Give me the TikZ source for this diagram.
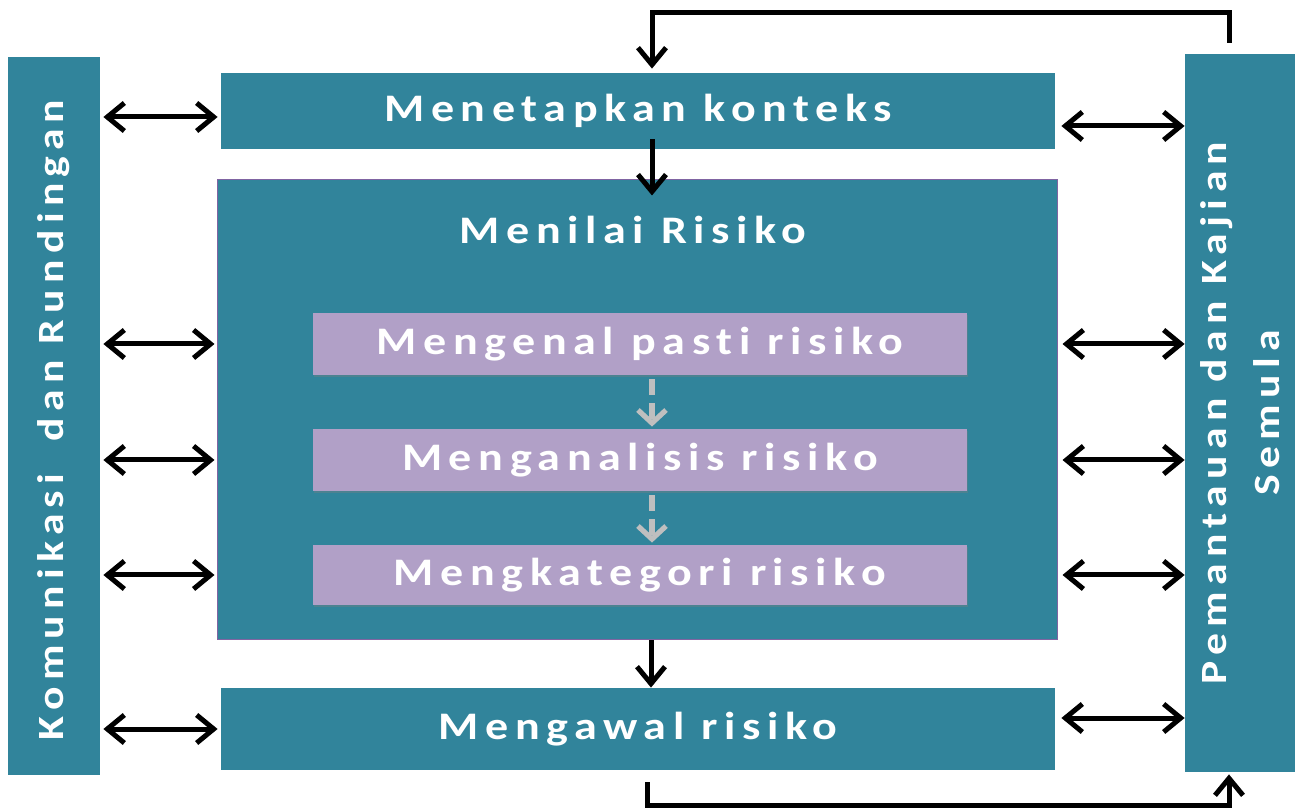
\documentclass[tikz,border=0pt]{standalone}
\usepackage{fontspec}
\setmainfont{Carlito}
\newfontfamily\spacedfont[LetterSpace=17, FakeStretch=1.18, Ligatures=NoCommon]{Carlito}
\usepackage{tikz}
\usetikzlibrary{arrows.meta,positioning,shadows}
\definecolor{cteal}{HTML}{31849B}
\definecolor{cpurp}{HTML}{B1A0C7}
\definecolor{cedge}{HTML}{8064A2}
\definecolor{cgrey}{HTML}{BFBFBF}
\tikzset{
  box/.style={fill=cteal, inner sep=0pt, text=white, align=center, font=\spacedfont\bfseries\fontsize{19.5}{27}\selectfont},
  tealn/.style={box},
  purpn/.style={box, fill=cpurp, minimum width=327pt, drop shadow={opacity=0.35, shadow xshift=0.6pt, shadow yshift=-0.9pt}},
  txt/.style={inner sep=0pt, text=white, align=center, font=\spacedfont\bfseries\fontsize{19.5}{27}\selectfont},
  vtxt/.style={txt, rotate=90, font=\spacedfont\bfseries\fontsize{18.5}{26.5}\selectfont},
  tip/.style={-{Straight Barb[length=8.5pt, width=14pt]}, line width=2.5pt},
  dbl/.style={{Straight Barb[length=8.5pt, width=14pt]}-{Straight Barb[length=8.5pt, width=14pt]}, line width=2.5pt},
  dashtip/.style={-{Straight Barb[length=6.5pt, width=14pt]}, draw=cgrey, line width=2.6pt, dash pattern=on 8pt off 4pt},
}
\begin{document}
\begin{tikzpicture}[x=0.5pt,y=-0.5pt]
\useasboundingbox (0,0) rectangle (1297,812);
% side bars
\node[tealn, minimum width=46pt, minimum height=358.5pt] (kom) at (54,416) {};
\node[vtxt] (komT) at ([yshift=-2pt]kom.center) {Komunikasi\ \ dan Rundingan};
\node[tealn, minimum width=55pt, minimum height=359pt] (pem) at (1240,413) {};
\node[vtxt] (pemT) at (pem.center) {Pemantauan dan Kajian\\Semula};
% main column
\node[tealn, minimum width=417pt, minimum height=38pt] (tetap) at (638,111) {Menetapkan konteks};
\node[tealn, draw=cedge, line width=0.5pt, minimum width=420pt, minimum height=230pt] (nilai) at (637,410) {};
\node[txt] (nilaiT) at (633,230) {Menilai Risiko};
\node[purpn, minimum height=31pt] (kenal) at (640,344) {Mengenal pasti risiko};
\node[purpn, minimum height=31pt] (analisis) at (640,460) {Menganalisis risiko};
\node[purpn, minimum height=30pt] (kategori) at (640,575) {Mengkategori risiko};
\node[tealn, minimum width=417pt, minimum height=41pt] (kawal) at (638,729) {Mengawal risiko};
% flow
\draw[tip] ([xshift=7pt,yshift=5pt]tetap.south) -- ([xshift=7pt,yshift=-8pt]tetap.south |- nilai.north);
\draw[tip] ([xshift=7pt]nilai.south) -- ([xshift=7pt]nilai.south |- kawal.north);
\draw[dashtip] ([xshift=6pt,yshift=-2pt]kenal.south) -- ([xshift=6pt,yshift=1pt]kenal.south |- analisis.north);
\draw[dashtip] ([xshift=6pt,yshift=-2pt]analisis.south) -- ([xshift=6pt,yshift=1pt]analisis.south |- kategori.north);
% feedback loops
\coordinate (upR) at (1229,13);
\coordinate (dnR) at (1229,805);
\draw[tip] ([xshift=-5.5pt,yshift=5.5pt]pem.north) -- (upR) -| ([xshift=7pt,yshift=2pt]tetap.north);
\draw[tip] ([xshift=4.5pt,yshift=-6pt]kawal.south) |- (dnR) -- ([xshift=-5.5pt,yshift=-1pt]pem.south);
% left links
\draw[dbl, shorten <=1.5pt, shorten >=1.5pt] ([yshift=-3pt]tetap.west -| kom.east) -- ([yshift=-3pt]tetap.west);
\foreach \n in {kenal,analisis,kategori}
  \draw[dbl, shorten <=1.5pt, shorten >=1pt] (\n.west -| kom.east) -- (\n.west -| nilai.west);
\draw[dbl, shorten <=1.5pt, shorten >=1.5pt] (kawal.west -| kom.east) -- (kawal.west);
% right links
\draw[dbl, shorten <=3pt] ([yshift=-7.5pt]tetap.east) -- ([yshift=-7.5pt]tetap.east -| pem.west);
\foreach \n in {kenal,analisis,kategori}
  \draw[dbl, shorten <=2.5pt] (\n.east -| nilai.east) -- (\n.east -| pem.west);
\draw[dbl, shorten <=3pt] ([yshift=5.5pt]kawal.east) -- ([yshift=5.5pt]kawal.east -| pem.west);
\end{tikzpicture}
\end{document}
